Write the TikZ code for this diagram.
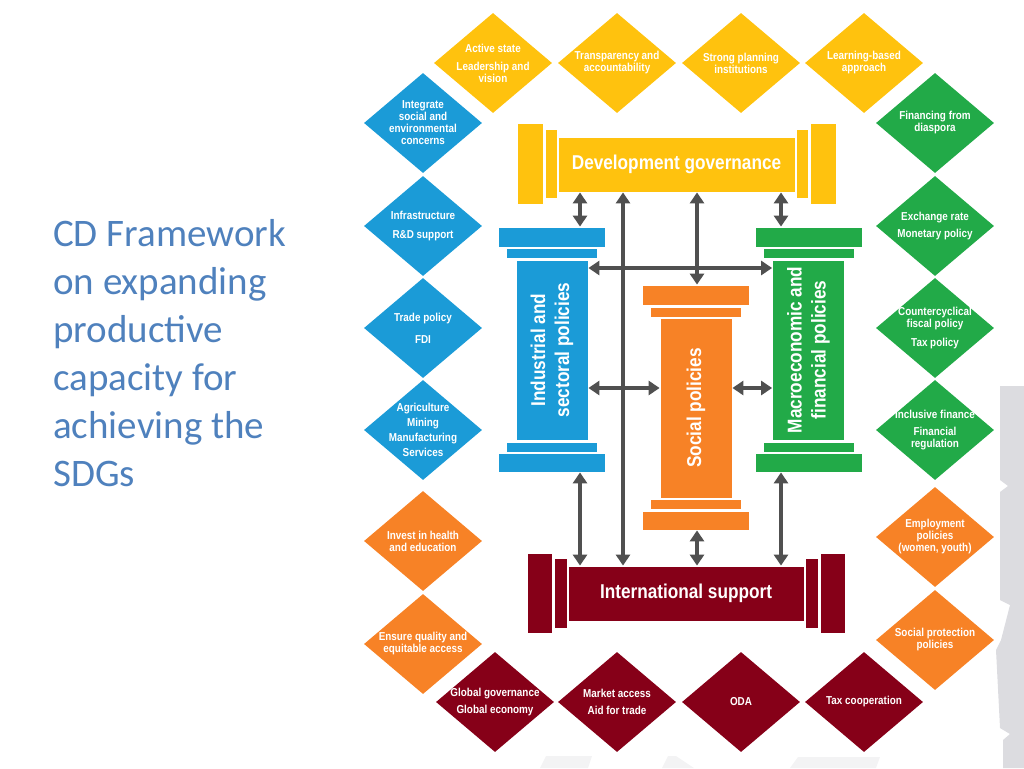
\documentclass[tikz,border=0pt]{standalone}
\usepackage{fontspec}
\setmainfont{Carlito}
\newfontfamily\narrowfont[FakeStretch=0.86]{Liberation Sans}
\usepackage{tikz}
\usetikzlibrary{shapes.geometric, arrows.meta}
\definecolor{cdyellow}{RGB}{255, 194, 14}
\definecolor{cdblue}{RGB}{27, 155, 215}
\definecolor{cdgreen}{RGB}{34, 170, 72}
\definecolor{cdorange}{RGB}{247, 130, 38}
\definecolor{cdred}{RGB}{134, 0, 24}
\definecolor{cdgray}{RGB}{80, 80, 80}
\definecolor{cdtitle}{RGB}{79, 129, 189}
\definecolor{cdshade}{RGB}{220, 220, 224}
\tikzset{
    goal/.style={diamond, minimum width=118pt, minimum height=100pt, inner sep=-18pt, text=white, align=center, font=\narrowfont\bfseries\fontsize{11.5}{12}\selectfont},
    part/.style={rectangle, draw=white, line width=0.8pt, inner sep=0pt},
    link/.style={draw=cdgray, line width=4.5pt, {Triangle[length=11pt,width=14pt]}-{Triangle[length=11pt,width=14pt]}},
    pillartext/.style={text=white, align=center, font=\narrowfont\bfseries\fontsize{20}{24}\selectfont}
}

\begin{document}
\begin{tikzpicture}[x=1pt, y=-1pt]
    \useasboundingbox (0,0) rectangle (1024,768);
    % faint background map
    \fill[cdshade] (1000,386) -- (1024,386) -- (1024,768) -- (1003,768) -- (1003,740) -- (1010,734) -- (1000,728)
        -- (996,650) -- (1001,640) -- (1010,605) -- (1000,600) -- (1000,492) -- (1008,486) -- (1000,480) -- cycle;
    \fill[cdshade!35] (540,768) -- (546,756) -- (592,756) -- (588,768) -- cycle;
    \fill[cdshade!35] (662,768) -- (668,756) -- (676,756) -- (694,768) -- cycle;
    \fill[cdshade!35] (790,768) -- (798,757) -- (880,757) -- (876,768) -- cycle;

    % title
    \node[anchor=north west, inner sep=0pt, align=left, text=cdtitle, font=\fontsize{39}{48}\selectfont] (title) at (53,219)
        {CD Framework\\on expanding\\productive\\capacity for\\achieving the\\SDGs};

    % top row
    \node[goal, fill=cdyellow] (g1) at (493,63) {Active state\\[6pt]Leadership and\\vision};
    \node[goal, fill=cdyellow] (g2) at (617,63) {Transparency and\\accountability};
    \node[goal, fill=cdyellow] (g3) at (741,63) {Strong planning\\institutions};
    \node[goal, fill=cdyellow] (g4) at (864,63) {Learning-based\\approach};
    % left column
    \node[goal, fill=cdblue] (l1) at (423,123) {Integrate\\social and\\environmental\\concerns};
    \node[goal, fill=cdblue] (l2) at (423,226) {Infrastructure\\[7pt]R\&D support};
    \node[goal, fill=cdblue] (l3) at (423,328) {Trade policy\\[10pt]FDI};
    \node[goal, fill=cdblue] (l4) at (423,430) {Agriculture\\[3pt]Mining\\[3pt]Manufacturing\\[3pt]Services};
    \node[goal, fill=cdorange] (l5) at (423,541) {Invest in health\\and education};
    \node[goal, fill=cdorange] (l6) at (423,644) {Ensure quality and\\equitable access};
    % right column
    \node[goal, fill=cdgreen] (r1) at (935,123) {Financing from\\diaspora};
    \node[goal, fill=cdgreen] (r2) at (935,226) {Exchange rate\\[5pt]Monetary policy};
    \node[goal, fill=cdgreen] (r3) at (935,328) {Countercyclical\\fiscal policy\\[7pt]Tax policy};
    \node[goal, fill=cdgreen] (r4) at (935,430) {Inclusive finance\\[5pt]Financial\\regulation};
    \node[goal, fill=cdorange] (r5) at (935,537) {Employment\\policies\\(women, youth)};
    \node[goal, fill=cdorange] (r6) at (935,640) {Social protection\\policies};
    % bottom row
    \node[goal, fill=cdred] (b1) at (495,702) {Global governance\\[5pt]Global economy};
    \node[goal, fill=cdred] (b2) at (617,702) {Market access\\[5pt]Aid for trade};
    \node[goal, fill=cdred] (b3) at (741,702) {ODA};
    \node[goal, fill=cdred] (b4) at (864,702) {Tax cooperation};

    % development governance
    \node[part, fill=cdyellow, minimum width=237pt, minimum height=55pt] (devgov) at (676.5,164.5) {};
    \node[part, fill=cdyellow, minimum width=12pt, minimum height=69pt] at (551,163.5) {};
    \node[part, fill=cdyellow, minimum width=12pt, minimum height=69pt] at (802,163.5) {};
    \node[part, fill=cdyellow, minimum width=26pt, minimum height=81pt] at (530,163.5) {};
    \node[part, fill=cdyellow, minimum width=26pt, minimum height=81pt] at (823.5,163.5) {};
    \node[pillartext] at (devgov) {Development governance};

    % international support
    \node[part, fill=cdred, minimum width=236pt, minimum height=55pt] (intl) at (686,593.5) {};
    \node[part, fill=cdred, minimum width=13pt, minimum height=70pt] at (560.5,593) {};
    \node[part, fill=cdred, minimum width=13pt, minimum height=70pt] at (812,593) {};
    \node[part, fill=cdred, minimum width=25pt, minimum height=80pt] at (539.5,593) {};
    \node[part, fill=cdred, minimum width=25pt, minimum height=80pt] at (832.5,593) {};
    \node[pillartext] at (intl) {International support};

    % industrial and sectoral policies
    \node[part, fill=cdblue, minimum width=107pt, minimum height=20pt] (indtop) at (552,237) {};
    \node[part, fill=cdblue, minimum width=91pt, minimum height=10pt] at (552,253) {};
    \node[part, fill=cdblue, minimum width=72pt, minimum height=180pt] (ind) at (552,350) {};
    \node[part, fill=cdblue, minimum width=91pt, minimum height=10pt] at (552,447) {};
    \node[part, fill=cdblue, minimum width=107pt, minimum height=19pt] (indbot) at (552,462.5) {};
    \node[pillartext, rotate=90] at (ind) {Industrial and\\sectoral policies};

    % social policies
    \node[part, fill=cdorange, minimum width=107pt, minimum height=20pt] (soctop) at (696,295) {};
    \node[part, fill=cdorange, minimum width=91pt, minimum height=10pt] at (696,312) {};
    \node[part, fill=cdorange, minimum width=72pt, minimum height=180pt] (soc) at (696,408) {};
    \node[part, fill=cdorange, minimum width=91pt, minimum height=10pt] at (696,504) {};
    \node[part, fill=cdorange, minimum width=107pt, minimum height=19pt] (socbot) at (696,520.5) {};
    \node[pillartext, rotate=90] at (soc) {Social policies};

    % macroeconomic and financial policies
    \node[part, fill=cdgreen, minimum width=107pt, minimum height=20pt] (mactop) at (808.5,237) {};
    \node[part, fill=cdgreen, minimum width=91pt, minimum height=10pt] at (808.5,253) {};
    \node[part, fill=cdgreen, minimum width=72pt, minimum height=180pt] (mac) at (808.5,350) {};
    \node[part, fill=cdgreen, minimum width=91pt, minimum height=10pt] at (808.5,447) {};
    \node[part, fill=cdgreen, minimum width=107pt, minimum height=19pt] (macbot) at (808.5,462.5) {};
    \node[pillartext, rotate=90] at (mac) {Macroeconomic and\\financial policies};

    % connectors
    \coordinate (xa) at (580,0);
    \coordinate (xb) at (623,0);
    \coordinate (xc) at (697,0);
    \coordinate (xd) at (781,0);
    \coordinate (ya) at (0,268);
    \coordinate (yb) at (0,388);
    \draw[link] (devgov.south -| xa) -- (indtop.north -| xa);
    \draw[link] (devgov.south -| xb) -- (intl.north -| xb);
    \draw[link] (devgov.south -| xc) -- (soctop.north -| xc);
    \draw[link] (devgov.south -| xd) -- (mactop.north -| xd);
    \draw[link] (ind.east |- ya) -- (mac.west |- ya);
    \draw[link] (ind.east |- yb) -- (soc.west |- yb);
    \draw[link] (soc.east |- yb) -- (mac.west |- yb);
    \draw[link] (indbot.south -| xa) -- (intl.north -| xa);
    \draw[link] (socbot.south -| xc) -- (intl.north -| xc);
    \draw[link] (macbot.south -| xd) -- (intl.north -| xd);
\end{tikzpicture}
\end{document}
